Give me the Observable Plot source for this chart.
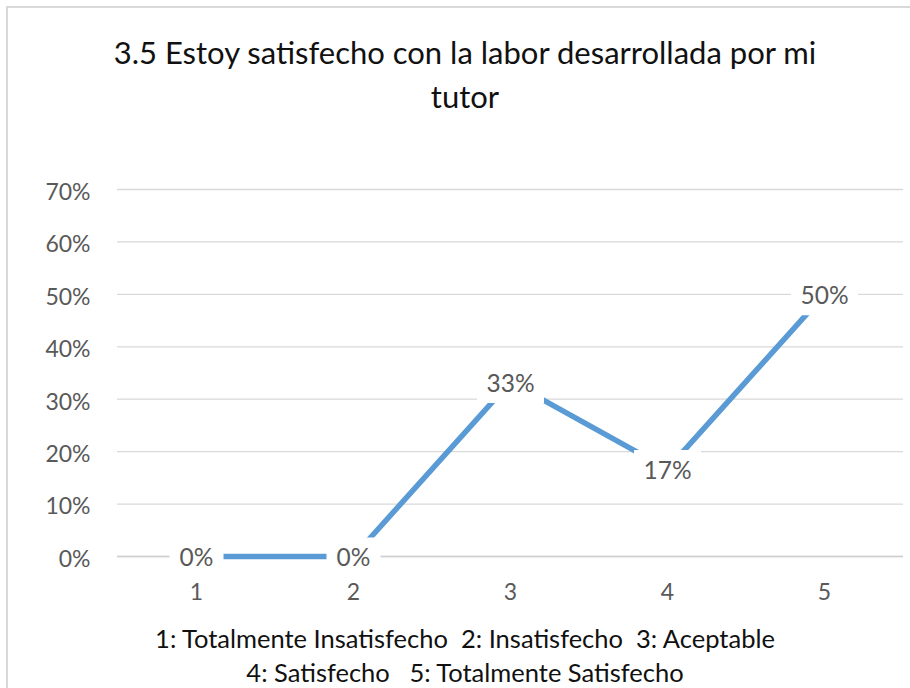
<!DOCTYPE html>
<html>
<head>
<meta charset="utf-8">
<script src="https://cdn.jsdelivr.net/npm/d3@7"></script>
<script src="https://cdn.jsdelivr.net/npm/@observablehq/plot@0.6"></script>
<style>
  html, body { margin: 0; padding: 0; background: #fff; }
  #wrap { position: relative; width: 910px; height: 688px; overflow: hidden; background: #fff; font-family: Lato, "Liberation Sans", sans-serif; }
  #frame { position: absolute; left: 6px; top: 6px; width: 920px; height: 700px; border-left: 2px solid #d9d9d9; border-top: 2px solid #d9d9d9; box-sizing: border-box; }
  #chart { position: absolute; left: 0; top: 0; }
  .title { position: absolute; left: 0; width: 930px; text-align: center; font-size: 31px; line-height: 36px; color: #111; white-space: pre; }
  .cap { position: absolute; left: 0; width: 930px; text-align: center; font-size: 25.5px; line-height: 30px; color: #111; white-space: pre; }
</style>
</head>
<body>
<div id="wrap">
  <div id="frame"></div>
  <div id="chart"></div>
  <div class="title" id="t1" style="top:34px"></div>
  <div class="title" id="t2" style="top:78px"></div>
  <div class="cap" id="c1" style="top:623px"></div>
  <div class="cap" id="c2" style="top:657px"></div>
</div>
<script>
const titleLines = ["3.5 Estoy satisfecho con la labor desarrollada por mi", "tutor"];
const categories = [1, 2, 3, 4, 5];
const values = [0, 0, 0.333, 0.167, 0.5];
const yTicks = [0, 0.1, 0.2, 0.3, 0.4, 0.5, 0.6, 0.7];
const captionLine1 = ["1: Totalmente Insatisfecho", "2: Insatisfecho", "3: Aceptable"];
const captionLine2 = ["4: Satisfecho", "5: Totalmente Satisfecho"];

const pct = d3.format(".0%");
const data = categories.map((c, i) => ({cat: c, value: values[i], label: pct(values[i])}));

function box(w, h) {
  return { draw(ctx) { ctx.rect(-w / 2, -h / 2, w, h); } };
}

const chart = Plot.plot({
  width: 910,
  height: 620,
  marginTop: 189,
  marginBottom: 64,
  marginLeft: 117,
  marginRight: 7,
  style: { fontFamily: 'Lato, "Liberation Sans", sans-serif', fontSize: "23px", color: "#595959", background: "transparent" },
  x: { type: "point", domain: categories, padding: 0.5 },
  y: { domain: [0, 0.7] },
  marks: [
    Plot.gridY(yTicks, { stroke: "#d9d9d9", strokeOpacity: 1, strokeWidth: 1.3 }),
    Plot.ruleY([0], { stroke: "#d0d0d0", strokeWidth: 1.6 }),
    Plot.line(data, { x: "cat", y: "value", stroke: "#5b9bd5", strokeWidth: 5.5, strokeLinecap: "butt" }),
    Plot.dot(data.filter(d => d.label.length <= 2), { x: "cat", y: "value", symbol: box(54, 40), fill: "white", stroke: null, r: 5, dy: 1 }),
    Plot.dot(data.filter(d => d.label.length > 2), { x: "cat", y: "value", symbol: box(67, 40), fill: "white", stroke: null, r: 5, dy: 1 }),
    Plot.text(data, { x: "cat", y: "value", text: "label", fill: "#595959", fontSize: 24.5, dy: 2 }),
    Plot.axisY(yTicks, { tickFormat: pct, tickSize: 0, tickPadding: 27, label: null, dy: 3 }),
    Plot.axisX(categories, { tickSize: 0, tickPadding: 27, label: null })
  ]
});
document.getElementById("chart").appendChild(chart);
document.getElementById("t1").textContent = titleLines[0];
document.getElementById("t2").textContent = titleLines[1];
document.getElementById("c1").textContent = captionLine1.join("  ");
document.getElementById("c2").textContent = captionLine2.join("   ");
</script>
</body>
</html>
